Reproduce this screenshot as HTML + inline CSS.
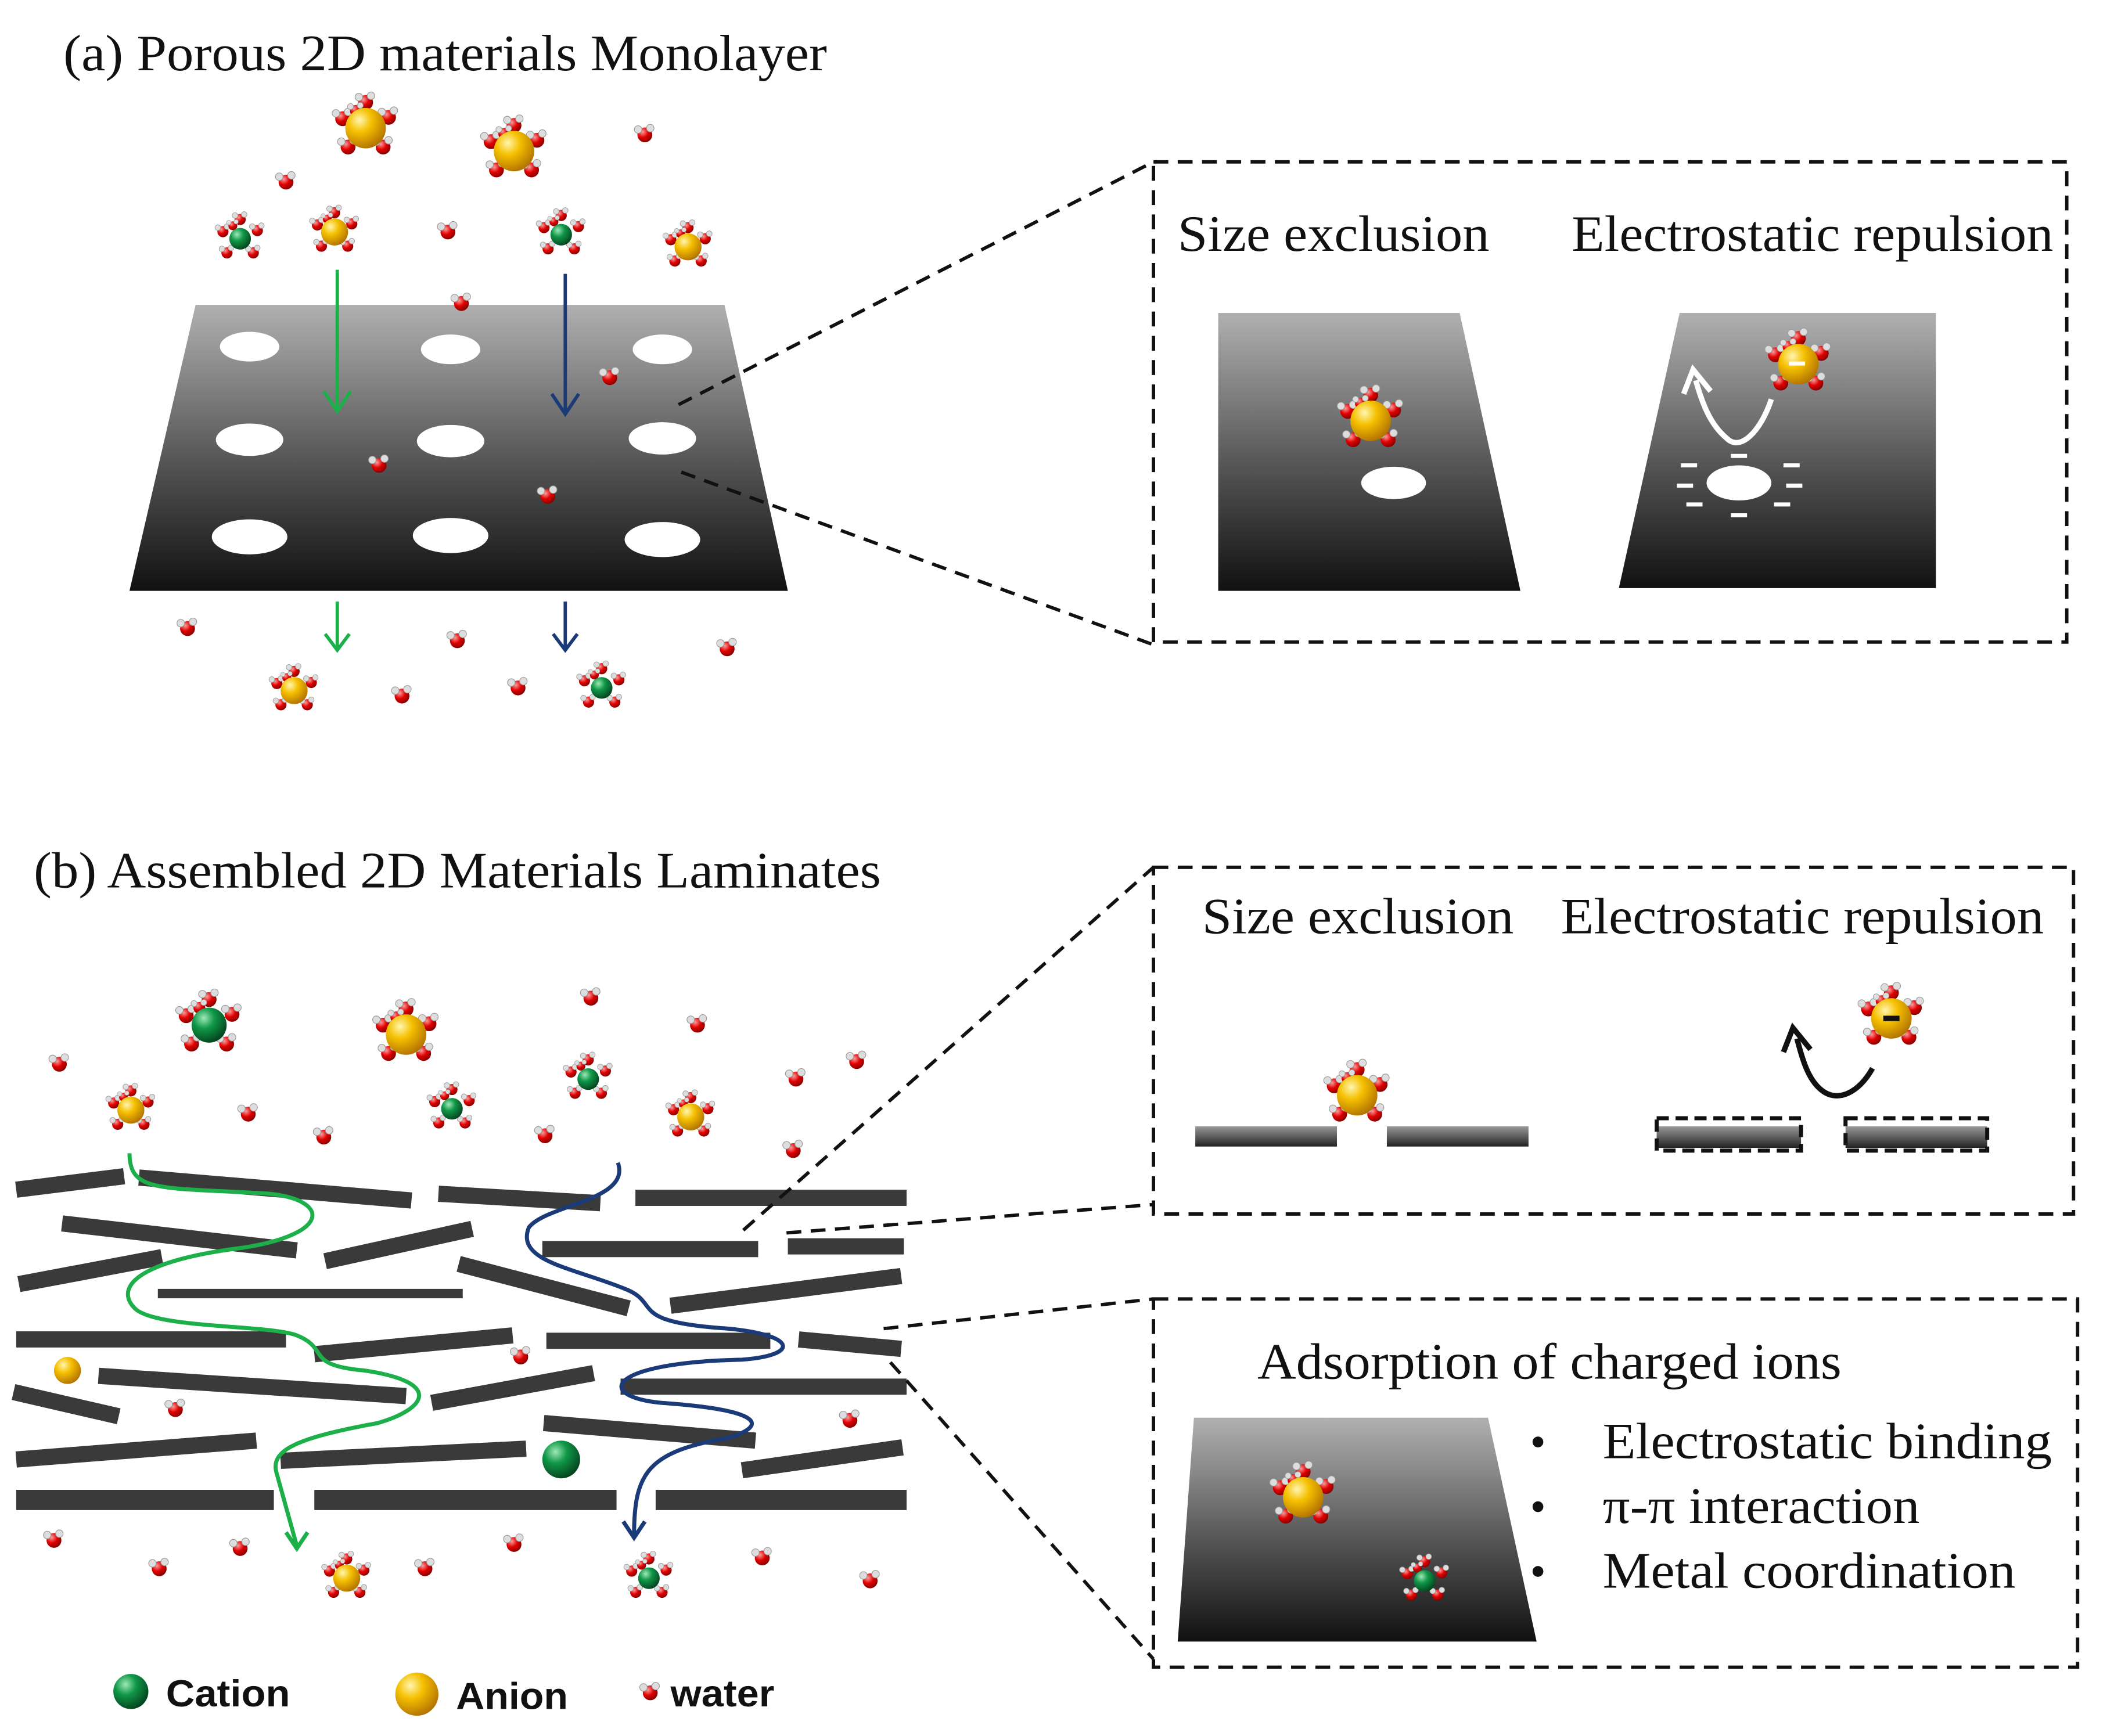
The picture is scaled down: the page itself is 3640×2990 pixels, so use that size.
<!DOCTYPE html>
<html><head><meta charset="utf-8"><style>
html,body{margin:0;padding:0;background:#fff;}
svg{display:block;}
.t{font-family:"Liberation Serif",serif;fill:#111;}
.s{font-family:"Liberation Sans",sans-serif;font-weight:bold;fill:#111;}
</style></head><body>
<svg width="3640" height="2990" viewBox="0 0 1567 1287" preserveAspectRatio="none" xmlns="http://www.w3.org/2000/svg">
<defs>
<linearGradient id="gr" x1="0" y1="0" x2="0" y2="1"><stop offset="0" stop-color="#b0b0b0"/><stop offset="0.55" stop-color="#555"/><stop offset="1" stop-color="#111"/></linearGradient>
<linearGradient id="bar" x1="0" y1="0" x2="0" y2="1"><stop offset="0" stop-color="#999"/><stop offset="1" stop-color="#222"/></linearGradient>
<radialGradient id="au" cx="0.35" cy="0.3" r="0.75"><stop offset="0" stop-color="#fff6b0"/><stop offset="0.4" stop-color="#f5c000"/><stop offset="1" stop-color="#b07000"/></radialGradient>
<radialGradient id="cu" cx="0.35" cy="0.3" r="0.75"><stop offset="0" stop-color="#9fe8b8"/><stop offset="0.4" stop-color="#109848"/><stop offset="1" stop-color="#04401c"/></radialGradient>
<radialGradient id="ou" cx="0.35" cy="0.3" r="0.75"><stop offset="0" stop-color="#ff9a9a"/><stop offset="0.5" stop-color="#e00000"/><stop offset="1" stop-color="#800000"/></radialGradient>
<g id="w"><circle r="5.5" fill="url(#ou)"/><circle cx="-5" cy="-4" r="2.8" fill="#ddd" stroke="#999" stroke-width="0.5"/><circle cx="4" cy="-5" r="2.8" fill="#ddd" stroke="#999" stroke-width="0.5"/></g>
<g id="shell"><use href="#w" x="0" y="-19"/><use href="#w" x="17" y="-8"/><use href="#w" x="13" y="14"/><use href="#w" x="-13" y="14"/><use href="#w" x="-17" y="-7"/><use href="#w" x="-9" y="-16" transform="scale(0.8)"/></g>
<g id="A"><use href="#shell"/><circle r="15" fill="url(#au)"/></g>
<g id="C"><use href="#shell"/><circle r="13" fill="url(#cu)"/></g>
<g id="a"><use href="#shell" transform="scale(0.75)"/><circle r="10" fill="url(#au)"/></g>
<g id="c"><use href="#shell" transform="scale(0.75)"/><circle r="8" fill="url(#cu)"/></g>
</defs>

<!-- (a) -->
<text class="t" x="47" y="52" font-size="38" textLength="566" lengthAdjust="spacingAndGlyphs">(a) Porous 2D materials Monolayer</text>
<polygon points="145,226 537,226 584,438 96,438" fill="url(#gr)"/>
<g fill="#fff">
<ellipse cx="185" cy="257" rx="22" ry="11"/><ellipse cx="334" cy="259" rx="22" ry="11"/><ellipse cx="491" cy="259" rx="22" ry="11"/>
<ellipse cx="185" cy="326" rx="25" ry="12"/><ellipse cx="334" cy="327" rx="25" ry="12"/><ellipse cx="491" cy="325" rx="25" ry="12"/>
<ellipse cx="185" cy="398" rx="28" ry="13"/><ellipse cx="334" cy="397" rx="28" ry="13"/><ellipse cx="491" cy="400" rx="28" ry="13"/>
</g>
<g stroke-width="2.5" fill="none">
<path d="M250,200 V305 M240,290 L250,305 L260,290" stroke="#1db04a"/>
<path d="M419,203 V307 M409,292 L419,307 L429,292" stroke="#1a3a78"/>
<path d="M250,446 V482 M241,470 L250,482 L259,470" stroke="#1db04a"/>
<path d="M419,446 V482 M410,470 L419,482 L428,470" stroke="#1a3a78"/>
</g>
<use href="#A" x="271" y="95"/><use href="#A" x="381" y="112"/>
<use href="#a" x="248" y="172"/><use href="#a" x="510" y="183"/>
<use href="#c" x="178" y="177"/><use href="#c" x="416" y="174"/>
<use href="#w" x="212" y="135"/><use href="#w" x="478" y="100"/><use href="#w" x="332" y="172"/><use href="#w" x="342" y="225"/><use href="#w" x="452" y="280"/><use href="#w" x="281" y="345"/><use href="#w" x="406" y="368"/>
<use href="#w" x="139" y="466"/><use href="#w" x="339" y="475"/><use href="#w" x="298" y="516"/><use href="#w" x="384" y="510"/><use href="#w" x="539" y="481"/>
<use href="#a" x="218" y="512"/><use href="#c" x="446" y="510"/>

<g stroke="#111" stroke-width="2.5" stroke-dasharray="11,7" fill="none">
<rect x="855" y="120" width="677" height="356"/>
<line x1="503" y1="300" x2="855" y2="120"/><line x1="505" y1="350" x2="855" y2="478"/>
</g>
<text class="t" x="873" y="186" font-size="38" textLength="231" lengthAdjust="spacingAndGlyphs">Size exclusion</text>
<text class="t" x="1165" y="186" font-size="38" textLength="357" lengthAdjust="spacingAndGlyphs">Electrostatic repulsion</text>
<polygon points="903,232 1082,232 1127,438 903,438" fill="url(#gr)"/>
<ellipse cx="1033" cy="358" rx="24" ry="12" fill="#fff"/>
<use href="#A" x="1016" y="312"/>
<polygon points="1245,232 1435,232 1435,436 1200,436" fill="url(#gr)"/>
<ellipse cx="1289" cy="358" rx="24" ry="13" fill="#fff"/>
<g stroke="#fff" stroke-width="3">
<line x1="1246" y1="345" x2="1258" y2="345"/><line x1="1322" y1="345" x2="1334" y2="345"/><line x1="1243" y1="360" x2="1255" y2="360"/><line x1="1324" y1="360" x2="1336" y2="360"/><line x1="1250" y1="374" x2="1262" y2="374"/><line x1="1315" y1="374" x2="1327" y2="374"/><line x1="1283" y1="382" x2="1295" y2="382"/><line x1="1283" y1="338" x2="1295" y2="338"/>
</g>
<path d="M1313,296 C1305,320 1290,335 1280,325 C1268,315 1262,300 1257,282" stroke="#fff" stroke-width="4" fill="none"/>
<path d="M1248,292 L1255,274 L1268,290" stroke="#fff" stroke-width="4" fill="none"/>
<use href="#A" x="1333" y="270"/><rect x="1326" y="268" width="12" height="3" fill="#fff"/>

<!-- (b) -->
<text class="t" x="25" y="658" font-size="38" textLength="628" lengthAdjust="spacingAndGlyphs">(b) Assembled 2D Materials Laminates</text>
<g stroke="#3a3a3a" stroke-width="12">
<line x1="12" y1="882" x2="92" y2="872"/><line x1="103" y1="873" x2="305" y2="890"/><line x1="325" y1="885" x2="445" y2="892"/><line x1="471" y1="888" x2="672" y2="888"/>
<line x1="46" y1="907" x2="220" y2="927"/><line x1="241" y1="935" x2="350" y2="911"/><line x1="402" y1="926" x2="562" y2="926"/><line x1="584" y1="924" x2="670" y2="924"/>
<line x1="14" y1="952" x2="120" y2="932"/><line x1="117" y1="959" x2="343" y2="959" stroke-width="7"/><line x1="340" y1="937" x2="466" y2="970"/><line x1="497" y1="968" x2="668" y2="946"/>
<line x1="12" y1="993" x2="212" y2="993"/><line x1="233" y1="1004" x2="380" y2="990"/><line x1="405" y1="994" x2="571" y2="994"/><line x1="592" y1="993" x2="668" y2="1000"/>
<line x1="73" y1="1020" x2="301" y2="1035"/><line x1="320" y1="1040" x2="440" y2="1018"/><line x1="460" y1="1028" x2="672" y2="1028"/><line x1="10" y1="1032" x2="88" y2="1050"/>
<line x1="12" y1="1082" x2="190" y2="1068"/><line x1="208" y1="1083" x2="390" y2="1074"/><line x1="403" y1="1055" x2="560" y2="1068"/><line x1="550" y1="1090" x2="669" y2="1073"/>
<line x1="12" y1="1112" x2="203" y2="1112" stroke-width="15"/><line x1="233" y1="1112" x2="457" y2="1112" stroke-width="15"/><line x1="486" y1="1112" x2="672" y2="1112" stroke-width="15"/>
</g>
<path d="M96,855 C96,885 120,880 200,885 C245,890 245,915 180,925 C100,935 85,955 100,970 C115,985 200,982 220,990 C245,1000 225,1012 270,1016 C330,1025 315,1045 280,1055 C220,1066 200,1075 205,1092 L220,1146" stroke="#1db04a" stroke-width="3" fill="none"/>
<path d="M212,1136 L220,1148 L228,1136" stroke="#1db04a" stroke-width="3" fill="none"/>
<path d="M458,862 C468,890 405,893 392,910 C382,935 425,940 462,955 C492,966 462,980 540,985 C592,990 592,1005 550,1008 C450,1010 440,1035 490,1040 C562,1045 572,1056 540,1066 C480,1076 470,1092 470,1138" stroke="#1a3a78" stroke-width="3" fill="none"/>
<path d="M462,1128 L470,1140 L478,1128" stroke="#1a3a78" stroke-width="3" fill="none"/>
<use href="#C" x="155" y="760"/><use href="#A" x="301" y="767"/>
<use href="#a" x="97" y="823"/><use href="#a" x="512" y="828"/><use href="#c" x="335" y="822"/><use href="#c" x="436" y="800"/>
<use href="#w" x="44" y="789"/><use href="#w" x="184" y="826"/><use href="#w" x="240" y="843"/><use href="#w" x="438" y="740"/><use href="#w" x="517" y="760"/><use href="#w" x="590" y="800"/><use href="#w" x="635" y="787"/><use href="#w" x="404" y="842"/><use href="#w" x="588" y="853"/>
<circle cx="50" cy="1016" r="10" fill="url(#au)"/><circle cx="416" cy="1082" r="14" fill="url(#cu)"/>
<use href="#w" x="130" y="1045"/><use href="#w" x="386" y="1006"/><use href="#w" x="630" y="1053"/>
<use href="#w" x="40" y="1142"/><use href="#w" x="118" y="1163"/><use href="#w" x="178" y="1148"/><use href="#w" x="315" y="1163"/><use href="#w" x="381" y="1145"/><use href="#w" x="565" y="1155"/><use href="#w" x="645" y="1172"/>
<use href="#a" x="257" y="1170"/><use href="#c" x="481" y="1170"/>

<g stroke="#111" stroke-width="2.5" stroke-dasharray="11,7" fill="none">
<rect x="855" y="643" width="682" height="257"/>
<line x1="551" y1="912" x2="855" y2="643"/><line x1="583" y1="914" x2="855" y2="893"/>
<rect x="855" y="963" width="685" height="273"/>
<line x1="655" y1="985" x2="855" y2="963"/><line x1="660" y1="1010" x2="855" y2="1230"/>
</g>
<text class="t" x="891" y="692" font-size="38" textLength="231" lengthAdjust="spacingAndGlyphs">Size exclusion</text>
<text class="t" x="1157" y="692" font-size="38" textLength="358" lengthAdjust="spacingAndGlyphs">Electrostatic repulsion</text>
<rect x="886" y="835" width="105" height="15" fill="url(#bar)"/><rect x="1028" y="835" width="105" height="15" fill="url(#bar)"/>
<use href="#A" x="1006" y="812"/>
<rect x="1228" y="835" width="107" height="16" fill="url(#bar)"/><rect x="1368" y="835" width="105" height="16" fill="url(#bar)"/>
<g stroke="#111" stroke-width="3" stroke-dasharray="9,5" fill="none">
<rect x="1228" y="829" width="107" height="24"/><rect x="1368" y="829" width="105" height="24"/>
</g>
<path d="M1388,792 C1378,810 1362,818 1350,808 C1340,800 1336,785 1332,770" stroke="#111" stroke-width="4" fill="none"/>
<path d="M1322,780 L1329,762 L1342,778" stroke="#111" stroke-width="4" fill="none"/>
<use href="#A" x="1402" y="755"/><rect x="1396" y="753" width="12" height="4" fill="#111"/>

<text class="t" x="932" y="1022" font-size="38" textLength="433" lengthAdjust="spacingAndGlyphs">Adsorption of charged ions</text>
<polygon points="885,1051 1103,1051 1139,1217 873,1217" fill="url(#gr)"/>
<use href="#A" x="966" y="1110"/><use href="#c" x="1056" y="1172"/>
<g class="t" font-size="38">
<circle cx="1140" cy="1069" r="4" fill="#111"/><circle cx="1140" cy="1117" r="4" fill="#111"/><circle cx="1140" cy="1165" r="4" fill="#111"/>
<text x="1188" y="1081" textLength="333" lengthAdjust="spacingAndGlyphs">Electrostatic binding</text>
<text x="1188" y="1129" textLength="235" lengthAdjust="spacingAndGlyphs">π-π interaction</text>
<text x="1188" y="1177" textLength="306" lengthAdjust="spacingAndGlyphs">Metal coordination</text>
</g>

<!-- legend -->
<circle cx="97" cy="1254" r="13" fill="url(#cu)"/><text class="s" x="123" y="1265" font-size="28" textLength="92" lengthAdjust="spacingAndGlyphs">Cation</text>
<circle cx="309" cy="1256" r="16" fill="url(#au)"/><text class="s" x="338" y="1267" font-size="28" textLength="83" lengthAdjust="spacingAndGlyphs">Anion</text>
<use href="#w" x="482" y="1255"/><text class="s" x="497" y="1265" font-size="28" textLength="77" lengthAdjust="spacingAndGlyphs">water</text>
</svg>
</body></html>
